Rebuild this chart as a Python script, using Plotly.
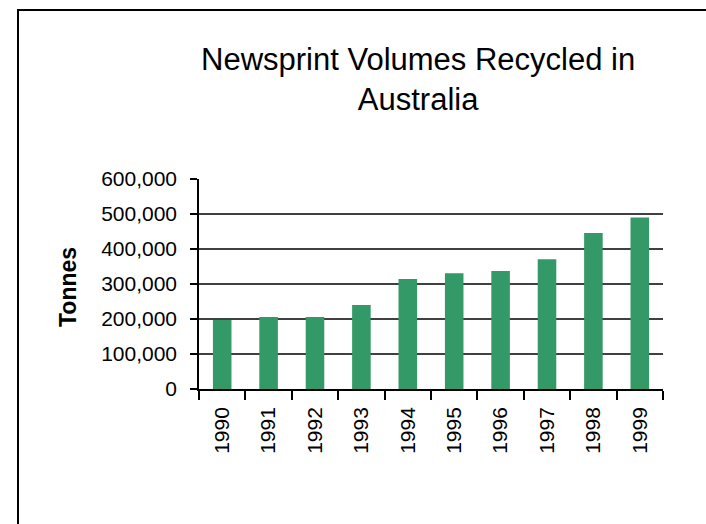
import plotly.graph_objects as go

# Newsprint recycled in Australia, tonnes per year
years = ["1990", "1991", "1992", "1993", "1994", "1995", "1996", "1997", "1998", "1999"]
tonnes = [197000, 206000, 206000, 240000, 314000, 331000, 337000, 371000, 446000, 490000]
y_ticks = [0, 100000, 200000, 300000, 400000, 500000, 600000]
grid_levels = [100000, 200000, 300000, 400000, 500000]

W, H = 706, 524
L, R, T, B = 199, 43, 179, 135
pw, ph = W - L - R, H - T - B

def px_x(x):
    return (x - L) / pw

def px_y(y):
    return (H - B - y) / ph

font = "Liberation Sans, Arial, sans-serif"

fig = go.Figure(go.Bar(
    x=years, y=tonnes,
    marker=dict(color="#339966", line=dict(width=0)),
    hoverinfo="skip",
))

shapes = [
    dict(type="line", xref="paper", x0=0, x1=1, yref="y", y0=g, y1=g,
         line=dict(color="black", width=1.5), layer="below")
    for g in grid_levels
]
# outer chart frame
shapes.append(dict(type="rect", xref="paper", yref="paper",
                   x0=px_x(18), x1=px_x(720), y0=px_y(10), y1=px_y(540),
                   line=dict(color="black", width=2), fillcolor="rgba(0,0,0,0)"))

fig.update_layout(
    width=W, height=H,
    margin=dict(l=L, r=R, t=T, b=B, autoexpand=False),
    paper_bgcolor="white", plot_bgcolor="white",
    bargap=0.6, showlegend=False,
    font=dict(family=font, color="black"),
    shapes=shapes,
    annotations=[
        dict(text="Newsprint Volumes Recycled in<br>Australia",
             xref="paper", yref="paper", x=px_x(418), y=px_y(80),
             xanchor="center", yanchor="middle", showarrow=False,
             font=dict(size=31, family=font, color="black")),
        dict(text="<b>Tonnes</b>", xref="paper", yref="paper",
             x=px_x(68), y=px_y(287), textangle=-90,
             xanchor="center", yanchor="middle", showarrow=False,
             font=dict(size=23, family=font, color="black")),
    ],
)

fig.update_xaxes(
    type="category", tickson="boundaries", ticks="outside", ticklen=9,
    tickcolor="black", tickwidth=1.5, tickangle=-90, ticklabelstandoff=8,
    showline=True, linecolor="black", linewidth=1.5,
    showgrid=False, tickfont=dict(size=21, family=font, color="black"),
)
fig.update_yaxes(
    range=[0, 600000], tickvals=y_ticks, tickformat=",",
    ticks="outside", ticklen=7, tickcolor="black", tickwidth=1.5,
    ticklabelstandoff=9,
    showline=True, linecolor="black", linewidth=1.5,
    showgrid=False, zeroline=False,
    tickfont=dict(size=21, family=font, color="black"),
)

fig.write_html("out.html")
